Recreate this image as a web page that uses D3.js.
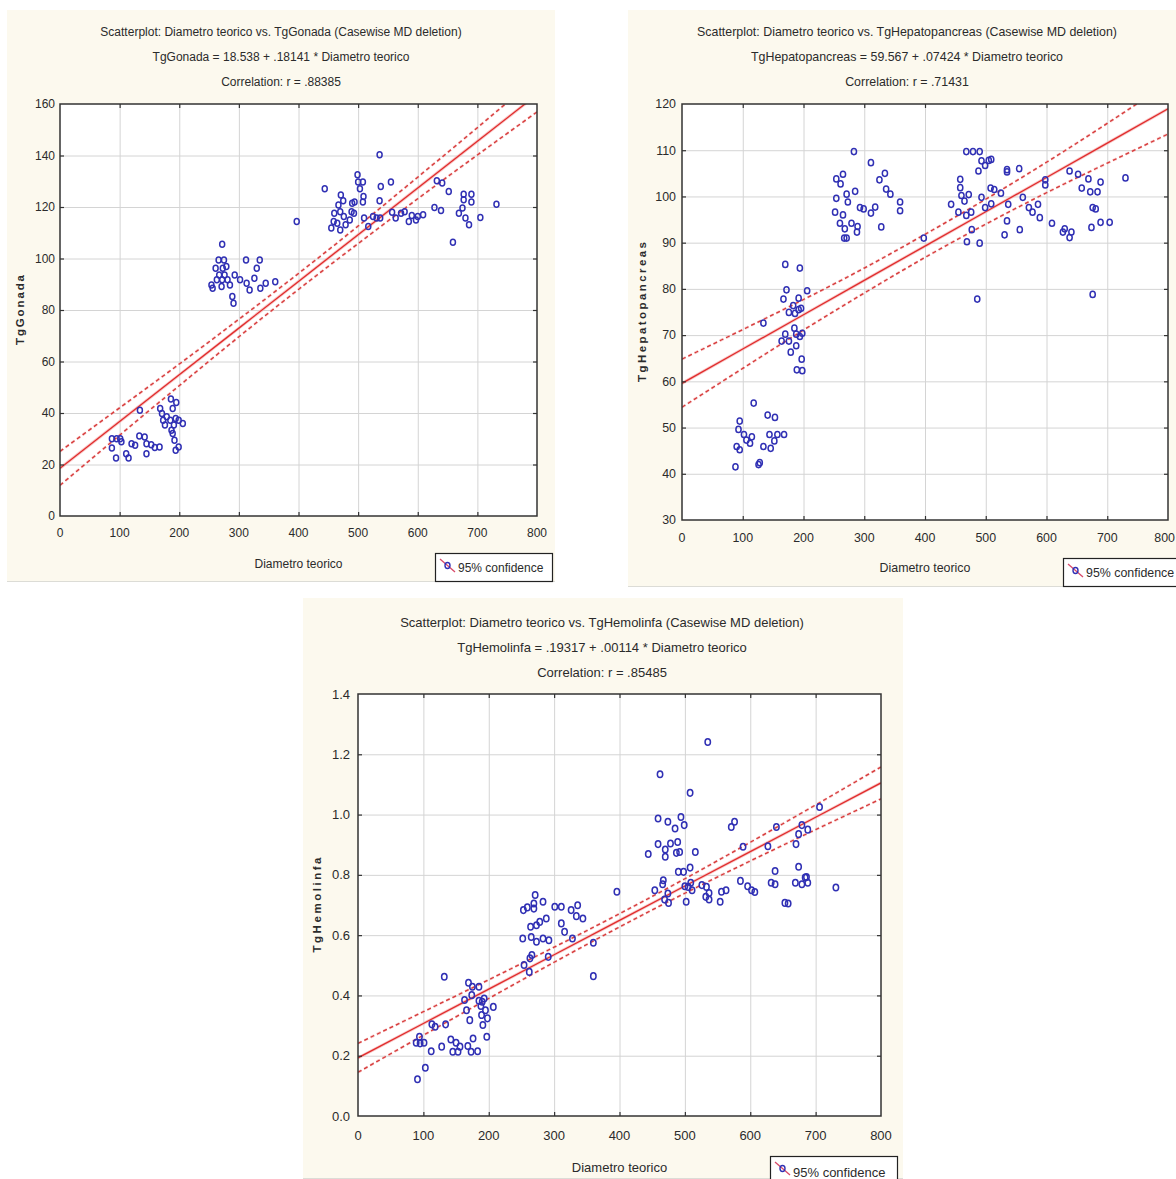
<!DOCTYPE html>
<html><head><meta charset="utf-8">
<script src="https://cdn.jsdelivr.net/npm/d3@7"></script>
<style>
body{margin:0;background:#fff;}
svg{display:block;font-family:"Liberation Sans",Arial,sans-serif;}
</style>
</head><body>
<svg id="c" width="1176" height="1179"></svg>
<script>
// ---------- shared ----------
const xTicks = [0,100,200,300,400,500,600,700,800];
const bandX  = [0,100,200,300,400,500,600,700,800];
const xTitle = "Diametro teorico";
const legendLabel = "95% confidence";

// ---------- panel 1 : TgGonada ----------
const gonadaTitle = ["Scatterplot: Diametro teorico vs. TgGonada (Casewise MD deletion)",
                     "TgGonada = 18.538 + .18141 * Diametro teorico",
                     "Correlation: r = .88385"];
const gonadaYTicks = [0,20,40,60,80,100,120,140,160];
const gonadaX = [87,95,101,87,94,103,111,115,120,126,133,142,134,145,145,153,159,167,168,171,173,176,179,186,195,189,185,194,191,199,206,189,192,194,199,187,
 254,256,261,263,266,272,273,275,276,271,272,279,281,285,289,291,293,302,312,313,318,326,330,335,336,345,361,267,
 397,444,455,459,460,465,467,470,470,471,475,476,479,486,489,490,493,494,499,500,503,508,508,509,510,517,525,531,536,537,538,536,555,557,563,572,578,585,590,597,600,609,628,632,639,641,652,659,669,675,677,677,680,686,690,690,705,732];
const gonadaY = [30,30,30,26.4,22.5,28.8,24.2,22.5,28.1,27.5,31.1,30.7,41.1,28.1,24.2,27.7,26.6,26.8,41.7,39.8,37.2,35.3,38.5,45.4,44.1,41.7,37.2,37.9,35.3,37.2,35.9,32.0,29.4,25.5,26.8,33.3,
 89.7,88.4,96.2,91.7,99.4,105.5,96.2,99.4,93.6,89.1,91.7,96.9,91.7,89.7,85.2,82.6,93.6,91.7,99.4,90.4,87.8,92.3,96.2,99.4,88.4,90.4,91.0,93.6,
 114.4,127.1,111.8,114.4,117.6,113.7,120.8,118.2,111.1,124.7,122.4,116.3,113.1,115.0,118.2,121.5,117.6,121.9,132.5,129.7,127.1,129.7,121.9,124.1,115.7,112.4,116.3,115.7,122.4,115.7,128.0,140.3,129.7,118.0,115.7,117.6,118.2,114.4,116.7,115.0,116.3,117.0,119.8,130.2,118.6,129.3,126.0,106.3,117.6,119.6,125.0,122.8,115.7,113.1,125.0,121.9,115.9,121.1];
const gonadaFit   = [18.54,36.68,54.82,72.96,91.10,109.24,127.38,145.52,163.67];
const gonadaUpper = [25.1,42.0,59.0,76.4,94.2,112.6,131.6,150.8,170.5];
const gonadaLower = [11.9,31.4,50.6,69.6,88.0,105.8,123.2,140.2,156.9];

// ---------- panel 2 : TgHepatopancreas ----------
const hepTitle = ["Scatterplot: Diametro teorico vs. TgHepatopancreas (Casewise MD deletion)",
                  "TgHepatopancreas = 59.567 + .07424 * Diametro teorico",
                  "Correlation: r = .71431"];
const hepYTicks = [30,40,50,60,70,80,90,100,110,120];
const hepX = [88,90,95,93,95,102,106,112,115,118,126,128,134,141,144,146,152,153,157,168,
 134,164,170,167,172,170,176,176,179,183,185,186,188,188,189,192,192,194,194,196,197,198,198,206,
 252,254,254,260,261,265,265,268,267,271,271,273,279,283,285,289,288,293,299,311,311,318,325,328,334,336,343,359,359,
 398,443,455,458,458,460,465,468,468,469,472,476,477,479,486,488,490,490,493,493,499,499,505,509,508,509,514,525,531,535,535,535,537,555,556,561,571,577,586,589,598,598,609,627,630,638,641,638,652,658,669,672,674,676,676,681,684,689,689,704,730];
const hepY = [41.5,45.9,45.2,49.6,51.4,48.5,47.3,46.6,48.0,55.3,42.0,42.4,45.9,52.7,48.5,45.5,47.1,52.2,48.5,48.5,
 72.6,68.7,85.3,77.8,79.8,70.2,68.7,74.9,66.3,76.4,71.5,74.7,70.2,67.7,62.5,78.0,75.5,84.5,69.7,75.8,64.8,70.4,62.3,79.6,
 96.6,103.8,99.6,94.2,102.7,104.8,96.0,93.0,91.0,91.0,100.5,98.8,94.2,109.7,101.1,93.5,92.3,97.6,97.3,107.3,96.4,97.7,103.6,93.4,105.0,101.6,100.5,98.8,96.9,
 91.0,98.3,96.6,103.7,101.9,100.2,99.0,109.7,95.9,90.2,100.4,96.6,92.8,109.7,77.8,105.5,109.7,89.9,107.7,99.8,106.7,97.6,107.8,108.0,101.8,98.4,101.5,100.7,91.7,105.8,105.3,94.7,98.3,106.0,92.8,99.8,97.6,96.6,98.3,95.4,103.6,102.5,94.2,92.3,93.0,91.1,92.3,105.5,104.8,101.8,103.8,101.0,93.3,97.6,78.8,97.3,101.0,103.1,94.4,94.4,104.0];
const hepFit   = [59.57,66.99,74.41,81.84,89.26,96.69,104.11,111.54,118.96];
const hepUpper = [64.8,71.2,77.7,84.5,91.8,99.4,107.4,115.8,124.5];
const hepLower = [54.4,62.8,71.1,79.1,86.8,94.0,100.8,107.2,113.5];

// ---------- panel 3 : TgHemolinfa ----------
const hemTitle = ["Scatterplot: Diametro teorico vs. TgHemolinfa (Casewise MD deletion)",
                  "TgHemolinfa = .19317 + .00114 * Diametro teorico",
                  "Correlation: r = .85485"];
const hemYTicks = [0,0.2,0.4,0.6,0.8,1.0,1.2,1.4];
const hemX = [91,89,94,95,101,103,112,113,118,128,132,134,142,145,150,153,156,163,166,168,169,171,173,175,174,176,183,185,185,188,189,191,193,195,197,198,207,190,
 253,259,271,269,269,252,254,262,263,266,264,265,273,273,278,283,283,288,292,291,301,311,311,316,326,328,336,334,344,360,360,396,
 444,454,459,459,462,466,467,470,469,470,474,474,475,478,485,487,489,490,492,494,498,499,500,502,505,508,508,509,511,516,526,532,533,535,537,537,554,556,563,571,576,585,589,596,602,607,627,632,638,638,640,653,658,669,670,674,674,679,679,684,686,688,688,706,731];
const hemY = [0.122,0.243,0.263,0.241,0.243,0.160,0.215,0.304,0.296,0.230,0.462,0.304,0.254,0.213,0.243,0.213,0.230,0.385,0.351,0.232,0.442,0.318,0.213,0.429,0.401,0.257,0.215,0.429,0.382,0.365,0.335,0.302,0.390,0.351,0.263,0.324,0.362,0.379,
 0.683,0.692,0.733,0.705,0.688,0.589,0.501,0.478,0.523,0.534,0.628,0.594,0.633,0.578,0.644,0.711,0.589,0.655,0.583,0.528,0.694,0.694,0.639,0.611,0.683,0.589,0.699,0.663,0.655,0.575,0.464,0.744,
 0.869,0.749,0.987,0.902,1.134,0.769,0.782,0.860,0.718,0.884,0.976,0.738,0.707,0.904,0.954,0.873,0.909,0.810,0.876,0.992,0.810,0.965,0.762,0.711,0.760,1.072,0.824,0.774,0.749,0.876,0.766,0.727,0.760,1.241,0.740,0.718,0.711,0.744,0.749,0.959,0.976,0.780,0.893,0.762,0.749,0.743,0.895,0.774,0.769,0.813,0.959,0.707,0.705,0.774,0.902,0.827,0.935,0.769,0.965,0.791,0.793,0.774,0.950,1.025,0.758];
const hemFit   = [0.193,0.307,0.421,0.535,0.649,0.763,0.877,0.991,1.105];
const hemUpper = [0.241,0.346,0.452,0.560,0.671,0.787,0.908,1.032,1.158];
const hemLower = [0.145,0.268,0.390,0.510,0.627,0.739,0.846,0.950,1.052];

// ---------- layout ----------
const panels = [
  {id:"p1", bg:[7,10,555,582], plot:{l:60,r:537,t:104,b:516}, fs:12, titleCx:281, titleCy:[32,57,82],
   yName:"TgGonada", yNameX:20, yNameLen:70, yPad:5, xLabOff:17, xTitleCy:564,
   legend:{x:435,y:553,w:117,h:28}, rx:2.5, ry:3.0,
   title:gonadaTitle, yTicks:gonadaYTicks, fmt:d3.format("d"), xs:gonadaX, ys:gonadaY, fit:gonadaFit, up:gonadaUpper, lo:gonadaLower},
  {id:"p2", bg:[628,10,1176,587], plot:{l:682,r:1168,t:104,b:520}, fs:12.4, titleCx:907, titleCy:[32,57,82],
   yName:"TgHepatopancreas", yNameX:642, yNameLen:140, yPad:6, xLabOff:18, xTitleCy:568,
   legend:{x:1063,y:558,w:120,h:28}, rx:2.6, ry:3.1,
   title:hepTitle, yTicks:hepYTicks, fmt:d3.format("d"), xs:hepX, ys:hepY, fit:hepFit, up:hepUpper, lo:hepLower},
  {id:"p3", bg:[303,598,903,1179], plot:{l:358,r:881,t:694,b:1116}, fs:13, titleCx:602, titleCy:[622,647,672],
   yName:"TgHemolinfa", yNameX:317, yNameLen:95, yPad:8, xLabOff:19, xTitleCy:1167,
   legend:{x:770,y:1156,w:127,h:30}, rx:2.7, ry:3.3,
   title:hemTitle, yTicks:hemYTicks, fmt:d3.format(".1f"), xs:hemX, ys:hemY, fit:hemFit, up:hemUpper, lo:hemLower}
];

const svg = d3.select("#c");
const INK = "#2b2b2b";
const W = 1176;

panels.forEach(p => {
  const g = svg.append("g");
  const [bx0,by0,bx1,by1] = p.bg;
  g.append("rect").attr("x",bx0).attr("y",by0).attr("width",bx1-bx0).attr("height",by1-by0)
    .attr("fill","#fcf9ee");
  g.append("line").attr("x1",bx0).attr("x2",bx1).attr("y1",by1-0.5).attr("y2",by1-0.5)
    .attr("stroke","#dcdcd6").attr("stroke-width",1);

  const x = d3.scaleLinear().domain([0,800]).range([p.plot.l,p.plot.r]);
  const yDom = d3.extent(p.yTicks);
  const y = d3.scaleLinear().domain(yDom).range([p.plot.b,p.plot.t]);

  // titles
  p.title.forEach((t,i) => {
    g.append("text").attr("x",p.titleCx).attr("y",p.titleCy[i]).attr("dy","0.35em")
      .attr("text-anchor","middle").attr("font-size",p.fs).attr("fill",INK).text(t);
  });

  // plot background
  g.append("rect").attr("x",p.plot.l).attr("y",p.plot.t)
    .attr("width",p.plot.r-p.plot.l).attr("height",p.plot.b-p.plot.t).attr("fill","#fff");

  // grid
  g.append("g").selectAll("line").data(xTicks.slice(1,-1)).join("line")
    .attr("x1",d=>x(d)+0.5).attr("x2",d=>x(d)+0.5).attr("y1",p.plot.t).attr("y2",p.plot.b)
    .attr("stroke","#d4d4d4").attr("stroke-width",1);
  g.append("g").selectAll("line").data(p.yTicks.slice(1,-1)).join("line")
    .attr("y1",d=>y(d)+0.5).attr("y2",d=>y(d)+0.5).attr("x1",p.plot.l).attr("x2",p.plot.r)
    .attr("stroke","#d4d4d4").attr("stroke-width",1);

  // clip
  const clipId = "clip-"+p.id;
  svg.append("clipPath").attr("id",clipId).append("rect")
    .attr("x",p.plot.l).attr("y",p.plot.t).attr("width",p.plot.r-p.plot.l).attr("height",p.plot.b-p.plot.t);
  const inner = g.append("g").attr("clip-path","url(#"+clipId+")");

  const rows = (arr) => bandX.map((bx,i)=>[bx,arr[i]]);
  const curve = d3.line().x(d=>x(d[0])).y(d=>y(d[1])).curve(d3.curveNatural);
  const straight = d3.line().x(d=>x(d[0])).y(d=>y(d[1]));

  // confidence bands
  [p.up,p.lo].forEach(arr => {
    inner.append("path").attr("d",curve(rows(arr))).attr("fill","none")
      .attr("stroke","#f3b3b3").attr("stroke-width",2.6).attr("stroke-dasharray","4,3").attr("opacity",0.7);
    inner.append("path").attr("d",curve(rows(arr))).attr("fill","none")
      .attr("stroke","#d63a3a").attr("stroke-width",1.3).attr("stroke-dasharray","4,3");
  });
  // regression line
  inner.append("path").attr("d",straight(rows(p.fit))).attr("fill","none")
    .attr("stroke","#f5b0b0").attr("stroke-width",3).attr("opacity",0.7);
  inner.append("path").attr("d",straight(rows(p.fit))).attr("fill","none")
    .attr("stroke","#e02c2c").attr("stroke-width",1.3);

  // points
  const pts = p.xs.map((v,i)=>({x:v,y:p.ys[i]}));
  inner.append("g").selectAll("ellipse").data(pts).join("ellipse")
    .attr("cx",d=>x(d.x)).attr("cy",d=>y(d.y)).attr("rx",p.rx).attr("ry",p.ry)
    .attr("fill","none").attr("stroke","#3030b4").attr("stroke-width",1.5);

  // frame
  g.append("rect").attr("x",p.plot.l).attr("y",p.plot.t)
    .attr("width",p.plot.r-p.plot.l).attr("height",p.plot.b-p.plot.t)
    .attr("fill","none").attr("stroke","#333").attr("stroke-width",1.5);

  // ticks inside frame
  const tk = 4;
  const tg = g.append("g").attr("stroke","#333").attr("stroke-width",1.2);
  xTicks.slice(1,-1).forEach(d=>{
    tg.append("line").attr("x1",x(d)+0.5).attr("x2",x(d)+0.5).attr("y1",p.plot.b).attr("y2",p.plot.b-tk);
    tg.append("line").attr("x1",x(d)+0.5).attr("x2",x(d)+0.5).attr("y1",p.plot.t).attr("y2",p.plot.t+tk);
  });
  p.yTicks.slice(1,-1).forEach(d=>{
    tg.append("line").attr("y1",y(d)+0.5).attr("y2",y(d)+0.5).attr("x1",p.plot.l).attr("x2",p.plot.l+tk);
    tg.append("line").attr("y1",y(d)+0.5).attr("y2",y(d)+0.5).attr("x1",p.plot.r).attr("x2",p.plot.r-tk);
  });

  // x tick labels (kept inside the page edge)
  g.append("g").selectAll("text").data(xTicks).join("text")
    .attr("x",d=> x(d)+11 > W ? W-1 : x(d))
    .attr("text-anchor",d=> x(d)+11 > W ? "end" : "middle")
    .attr("y",p.plot.b+p.xLabOff).attr("dy","0.35em")
    .attr("font-size",p.fs).attr("fill",INK).text(d=>d);
  // y tick labels
  g.append("g").selectAll("text").data(p.yTicks).join("text")
    .attr("x",p.plot.l-p.yPad).attr("y",d=>y(d)).attr("dy","0.35em")
    .attr("text-anchor","end").attr("font-size",p.fs).attr("fill",INK).text(d=>p.fmt(d));

  // x axis title
  g.append("text").attr("x",(p.plot.l+p.plot.r)/2).attr("y",p.xTitleCy).attr("dy","0.35em")
    .attr("text-anchor","middle").attr("font-size",p.fs).attr("fill",INK).text(xTitle);
  // y axis title
  const cy = (p.plot.t+p.plot.b)/2;
  g.append("text").attr("transform",`translate(${p.yNameX},${cy}) rotate(-90)`).attr("dy","0.35em")
    .attr("text-anchor","middle").attr("font-size",11.5).attr("font-weight","bold").attr("fill",INK)
    .attr("textLength",p.yNameLen).attr("lengthAdjust","spacing").text(p.yName);

  // legend
  const L = p.legend;
  const lg = g.append("g");
  lg.append("rect").attr("x",L.x+0.5).attr("y",L.y+0.5).attr("width",L.w).attr("height",L.h)
    .attr("fill","#fff").attr("stroke","#222").attr("stroke-width",1.2);
  lg.append("line").attr("x1",L.x+5).attr("y1",L.y+6).attr("x2",L.x+20).attr("y2",L.y+19)
    .attr("stroke","#d84a6a").attr("stroke-width",1.3);
  lg.append("ellipse").attr("cx",L.x+12.5).attr("cy",L.y+12.5).attr("rx",2.5).attr("ry",3)
    .attr("fill","none").attr("stroke","#3030b4").attr("stroke-width",1.4);
  lg.append("text").attr("x",L.x+23).attr("y",L.y+L.h/2+1).attr("dy","0.35em")
    .attr("font-size",p.fs).attr("fill",INK).text(legendLabel);
});
</script>
</body></html>
